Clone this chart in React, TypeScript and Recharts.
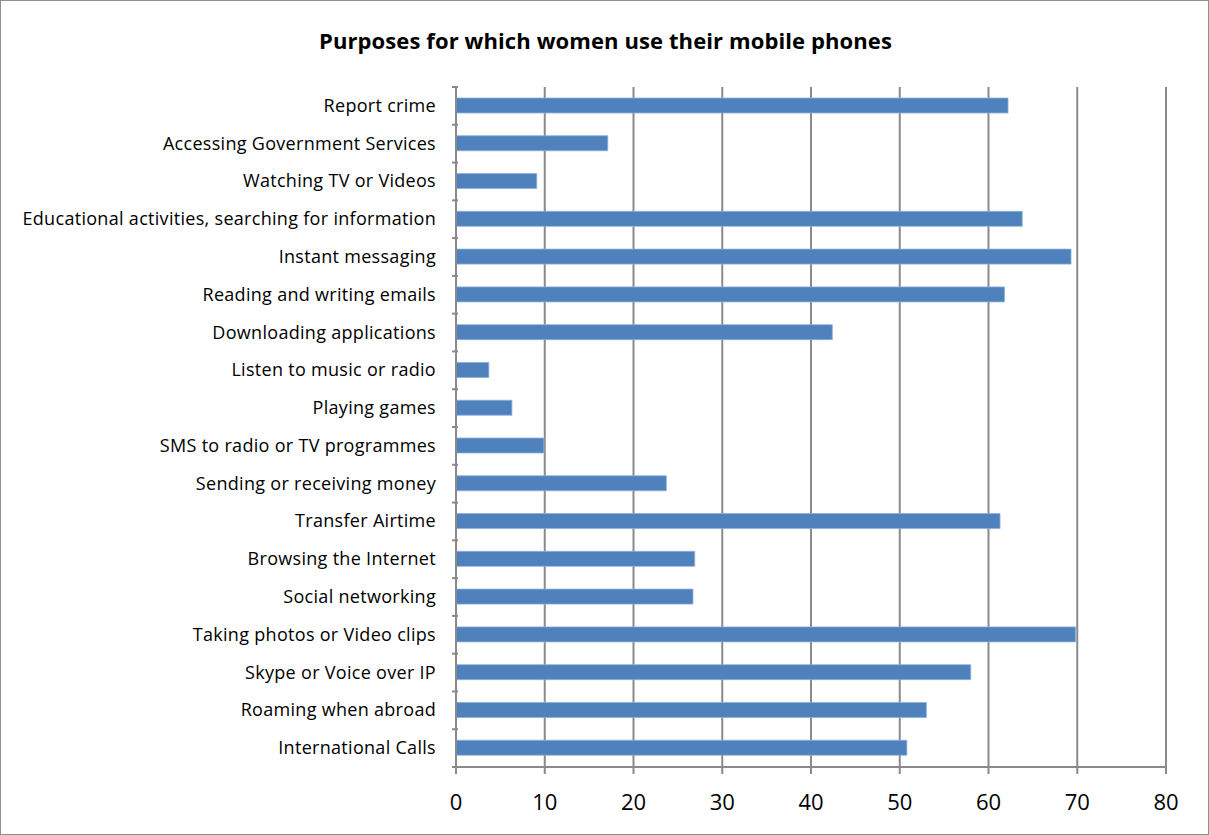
import { BarChart, Bar, XAxis, YAxis, CartesianGrid } from 'recharts';

const categories = [
  'Report crime',
  'Accessing Government Services',
  'Watching TV or Videos',
  'Educational activities, searching for information',
  'Instant messaging',
  'Reading and writing emails',
  'Downloading applications',
  'Listen to music or radio',
  'Playing games',
  'SMS to radio or TV programmes',
  'Sending or receiving money',
  'Transfer Airtime',
  'Browsing the Internet',
  'Social networking',
  'Taking photos or Video clips',
  'Skype or Voice over IP',
  'Roaming when abroad',
  'International Calls',
];

const values = [62.2, 17.1, 9.1, 63.8, 69.3, 61.8, 42.4, 3.7, 6.3, 9.9, 23.7, 61.3, 26.9, 26.7, 69.8, 58.0, 53.0, 50.8];

const xTicks = [0, 10, 20, 30, 40, 50, 60, 70, 80];

const data = categories.map((name, i) => ({ name, value: values[i] }));

const W = 1209;
const H = 835;
const M = { top: 87, right: 43, bottom: 18, left: 0 };
const Y_AXIS_W = 456;
const X_AXIS_H = 50;
const BAND = (H - M.top - M.bottom - X_AXIS_H) / categories.length;
const FONT = "'Open Sans', 'Liberation Sans', sans-serif";
const GRID = '#8a8a8a';

function CategoryTick(props: any) {
  const { x, y, payload, index } = props;
  const ax = x + 10;
  const last = index === categories.length - 1;
  return (
    <g>
      <line x1={ax - 6} x2={ax} y1={y - BAND / 2} y2={y - BAND / 2} stroke={GRID} strokeWidth={2} />
      {last && <line x1={ax - 6} x2={ax} y1={y + BAND / 2} y2={y + BAND / 2} stroke={GRID} strokeWidth={2} />}
      <text x={x - 12} y={y} dy={6} textAnchor="end" fontSize={18} fill="#000" fontFamily={FONT} letterSpacing={0.3}>
        {payload.value}
      </text>
    </g>
  );
}

export default function App() {
  return (
    <div
      style={{
        position: 'absolute',
        left: 0,
        top: 0,
        width: W,
        height: H,
        background: '#fff',
        boxSizing: 'border-box',
        border: '1.5px solid #8f8f8f',
      }}
    >
      <div
        style={{
          position: 'absolute',
          left: 0,
          top: 24,
          width: W,
          textAlign: 'center',
          fontFamily: FONT,
          fontWeight: 700,
          fontSize: 22,
          letterSpacing: 0.1,
          color: '#000',
        }}
      >
        Purposes for which women use their mobile phones
      </div>
      <div style={{ position: 'absolute', left: -1.5, top: -1.5 }}>
        <BarChart width={W} height={H} data={data} layout="vertical" margin={M} barSize={15}>
          <CartesianGrid horizontal={false} vertical stroke={GRID} strokeWidth={2} />
          <XAxis
            type="number"
            domain={[0, 80]}
            ticks={xTicks}
            interval={0}
            height={X_AXIS_H}
            stroke={GRID}
            strokeWidth={2}
            tickSize={7}
            tickMargin={20}
            tick={{ fontSize: 22, fill: '#000', fontFamily: FONT }}
          />
          <YAxis
            type="category"
            dataKey="name"
            width={Y_AXIS_W}
            stroke={GRID}
            strokeWidth={2}
            tickLine={false}
            interval={0}
            tick={<CategoryTick />}
          />
          <Bar dataKey="value" fill="#4F81BD" stroke="#8db0dc" strokeWidth={0.8} isAnimationActive={false} />
        </BarChart>
      </div>
    </div>
  );
}
